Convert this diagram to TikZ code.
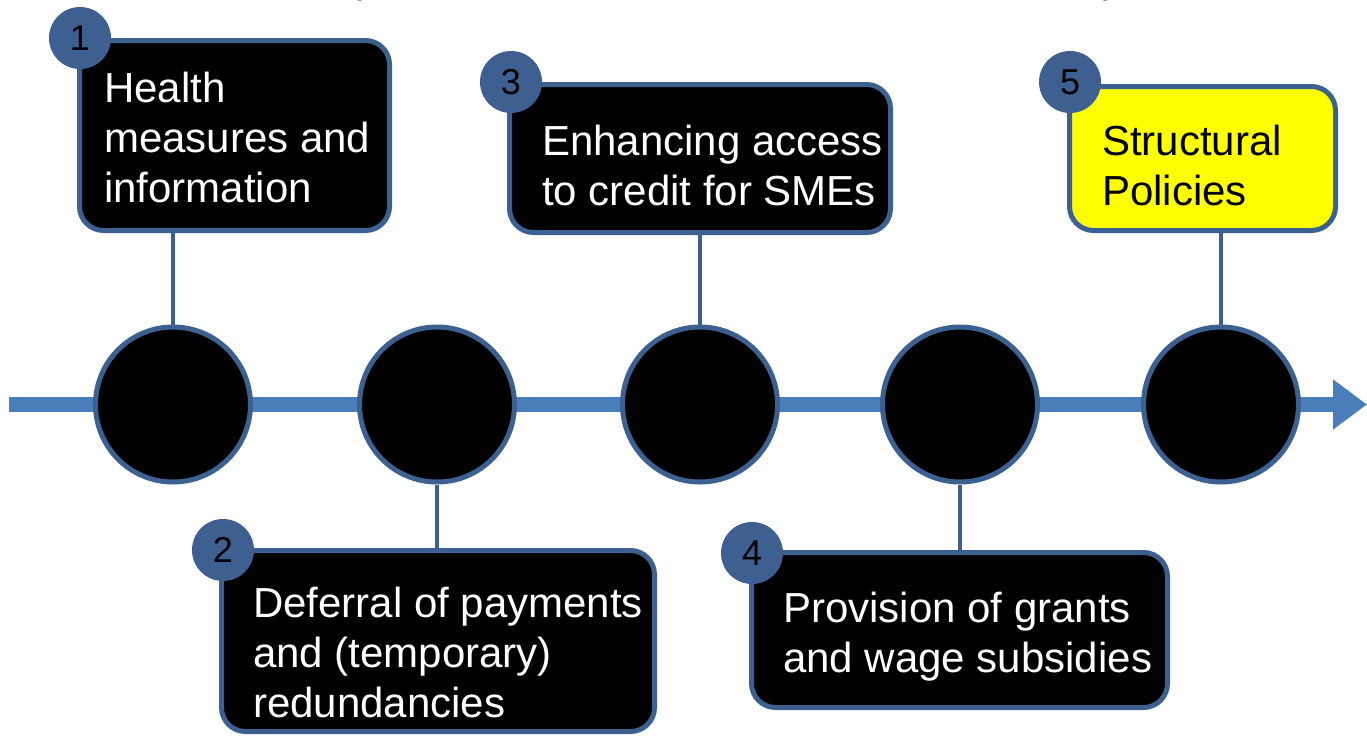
\documentclass[tikz,border=0pt]{standalone}
\usepackage{fontspec}
\setmainfont{Liberation Sans}
\usetikzlibrary{arrows.meta}
\definecolor{axisblue}{HTML}{4A7EBB}
\definecolor{edgeblue}{HTML}{3C6191}
\definecolor{badgeblue}{HTML}{3D6090}
\definecolor{titlenavy}{HTML}{1F1A78}
\definecolor{hlyellow}{HTML}{FFFF00}
\begin{document}
\begin{tikzpicture}[x=1pt,y=-1pt,
  dot/.style={circle,draw=edgeblue,line width=5pt,fill=black,minimum size=155pt,inner sep=0pt},
  card/.style={rectangle,rounded corners=24pt,draw=edgeblue,line width=5pt,fill=black,inner sep=0pt},
  badge/.style={circle,fill=badgeblue,minimum size=62pt,inner sep=0pt,font=\fontsize{36}{40}\selectfont,text=black},
  cardtext/.style={anchor=base west,inner sep=0pt,align=left,text=white,font=\fontsize{42}{50}\selectfont},
  link/.style={draw=edgeblue,line width=4pt},
  paren/.style={anchor=base west,inner sep=0pt,text=titlenavy,font=\fontsize{41}{50}\selectfont}]
\useasboundingbox (0,0) rectangle (1367,736);
% title fragments
\node[paren] (lp) at (348,-7) {(};
\node[paren] (rp) at (1103,-7) {)};
% axis
\coordinate (axL) at (9,404.5);
\coordinate (axR) at (1367,404.5);
\draw[axisblue,line width=15pt,-{Triangle[length=34pt,width=48pt]}] (axL) -- (axR);
% circles
\node[dot] (c1) at (173,404.5) {};
\node[dot] (c2) at (437,404.5) {};
\node[dot] (c3) at (700,404.5) {};
\node[dot] (c4) at (960,404.5) {};
\node[dot] (c5) at (1221,404.5) {};
% cards
\node[card,minimum width=310pt,minimum height=190pt] (b1) at (234.5,135.5) {};
\node[card,minimum width=433pt,minimum height=181pt] (b2) at (438,641) {};
\node[card,minimum width=381pt,minimum height=148pt] (b3) at (700,158.5) {};
\node[card,minimum width=416pt,minimum height=155pt] (b4) at (959.5,630) {};
\node[card,fill=hlyellow,minimum width=266pt,minimum height=144pt] (b5) at (1202.5,158.5) {};
% connectors
\draw[link] (c1.north) -- (c1.north |- b1.south);
\draw[link] (c2.south) -- (c2.south |- b2.north);
\draw[link] (c3.north) -- (c3.north |- b3.south);
\draw[link] (c4.south) -- (c4.south |- b4.north);
\draw[link] (c5.north) -- (c5.north |- b5.south);
% texts (anchored at the baseline of the last line)
\node[cardtext] (t1) at (104,202) {Health\\measures and\\information};
\node[cardtext] (t2) at (253,717) {Deferral of payments\\and (temporary)\\redundancies};
\node[cardtext] (t3) at (542,205) {Enhancing access\\to credit for SMEs};
\node[cardtext] (t4) at (783,672) {Provision of grants\\and wage subsidies};
\node[cardtext,text=black] (t5) at (1102,205) {Structural\\Policies};
% badges
\node[badge] (n1) at (80,38) {1};
\node[badge] (n2) at (223,550) {2};
\node[badge] (n3) at (511,82) {3};
\node[badge] (n4) at (752,553) {4};
\node[badge] (n5) at (1070,82) {5};
\end{tikzpicture}
\end{document}
